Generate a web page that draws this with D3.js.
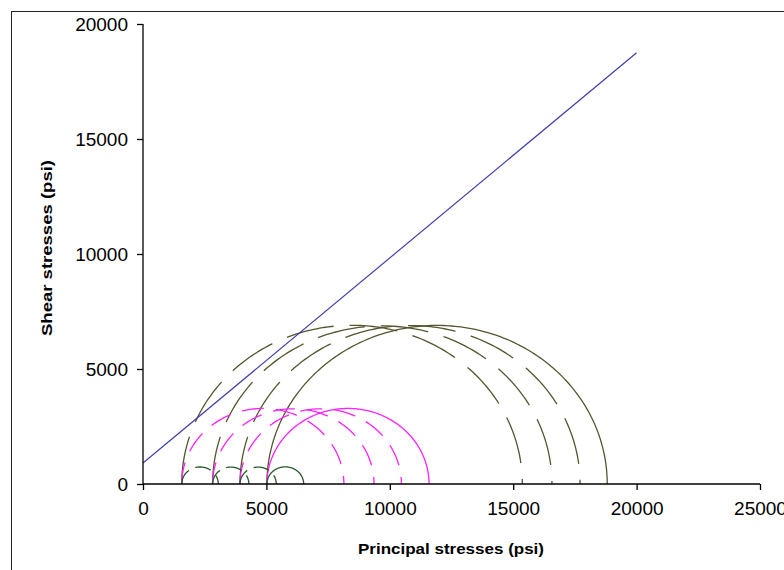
<!DOCTYPE html>
<html>
<head>
<meta charset="utf-8">
<script src="https://cdn.jsdelivr.net/npm/d3@7"></script>
<style>
  html, body { margin: 0; padding: 0; background: #fff; }
  svg { display: block; }
  text { font-family: "Liberation Sans", Arial, sans-serif; fill: #000; }
</style>
</head>
<body>
<svg id="chart" width="784" height="570"></svg>
<script>
// ---- data (psi) ----
const xTicks = [0, 5000, 10000, 15000, 20000, 25000];
const yTicks = [0, 5000, 10000, 15000, 20000];

// failure envelope (shear vs normal stress)
const envelopeSigma = [0, 20000];
const envelopeTau   = [910, 18750];

// Mohr circles: minor (sigma3) and major (sigma1) principal stresses
const sigma3 = [1570, 2820, 3930, 5020];
const sigma1Large  = [15370, 16570, 17710, 18810];   // olive circles
const sigma1Medium = [8140, 9360, 10470, 11590];     // magenta circles
const sigma1Small  = [3050, 4290, 5400, 6510];       // green circles
const circleDashed = [true, true, true, false];       // last of each group is solid

const xTitle = "Principal stresses (psi)";
const yTitle = "Shear stresses (psi)";

// ---- layout ----
const svg = d3.select("#chart");
const x = d3.scaleLinear().domain([0, 25000]).range([143, 760]);
const y = d3.scaleLinear().domain([0, 20000]).range([484, 24]);

// outer frame
svg.append("rect").attr("x", 11.5).attr("y", 11.5).attr("width", 800).attr("height", 600)
  .attr("fill", "none").attr("stroke", "#222").attr("stroke-width", 1);

// circles
function semicircle(s3, s1) {
  const c = (s3 + s1) / 2, r = (s1 - s3) / 2;
  const angles = d3.range(0, 181, 1).map(a => Math.PI - a * Math.PI / 180);
  return d3.line().x(t => x(c + r * Math.cos(t))).y(t => y(r * Math.sin(t)))(angles);
}

const groups = [
  { s1: sigma1Large,  color: "#55552f", dash: "48,16" },
  { s1: sigma1Medium, color: "#ff22ff", dash: "22,12" },
  { s1: sigma1Small,  color: "#285a28", dash: "16,7" }
];

groups.forEach(g => {
  sigma3.forEach((s3, i) => {
    svg.append("path")
      .attr("d", semicircle(s3, g.s1[i]))
      .attr("fill", "none")
      .attr("stroke", g.color)
      .attr("stroke-width", 1.3)
      .attr("stroke-dasharray", circleDashed[i] ? g.dash : null);
  });
});

// envelope line
svg.append("path")
  .attr("d", d3.line().x((d, i) => x(envelopeSigma[i])).y(d => y(d))(envelopeTau))
  .attr("fill", "none").attr("stroke", "#4040a8").attr("stroke-width", 1.2);

// axes
const xAxis = d3.axisBottom(x).tickValues(xTicks).tickSize(6).tickPadding(12).tickFormat(d3.format("d"));
const yAxis = d3.axisLeft(y).tickValues(yTicks).tickSize(6).tickPadding(9).tickFormat(d3.format("d"));

const gx = svg.append("g").attr("transform", `translate(0,${y(0)})`).call(xAxis);
const gy = svg.append("g").attr("transform", `translate(${x(0)},0)`).call(yAxis);
[gx, gy].forEach(g => {
  g.select(".domain").attr("stroke", "#000").attr("stroke-width", 1.3);
  g.selectAll(".tick line").attr("stroke", "#000").attr("stroke-width", 1.3);
  g.selectAll(".tick text").attr("font-size", 19).attr("fill", "#000")
    .attr("font-family", "'Liberation Sans', Arial, sans-serif");
});
// remove outer tick ends on domain
gx.select(".domain").attr("d", `M${x(0)},0H${x(25000)}`);
gy.select(".domain").attr("d", `M0,${y(0)}V${y(20000)}`);

// axis titles
svg.append("text").attr("x", 451).attr("y", 554).attr("text-anchor", "middle")
  .attr("font-size", 15).attr("font-weight", "bold")
  .attr("textLength", 186).attr("lengthAdjust", "spacingAndGlyphs")
  .text(xTitle);
svg.append("text").attr("transform", "translate(52,248) rotate(-90)").attr("text-anchor", "middle")
  .attr("font-size", 15).attr("font-weight", "bold")
  .attr("textLength", 176).attr("lengthAdjust", "spacingAndGlyphs")
  .text(yTitle);
</script>
</body>
</html>
